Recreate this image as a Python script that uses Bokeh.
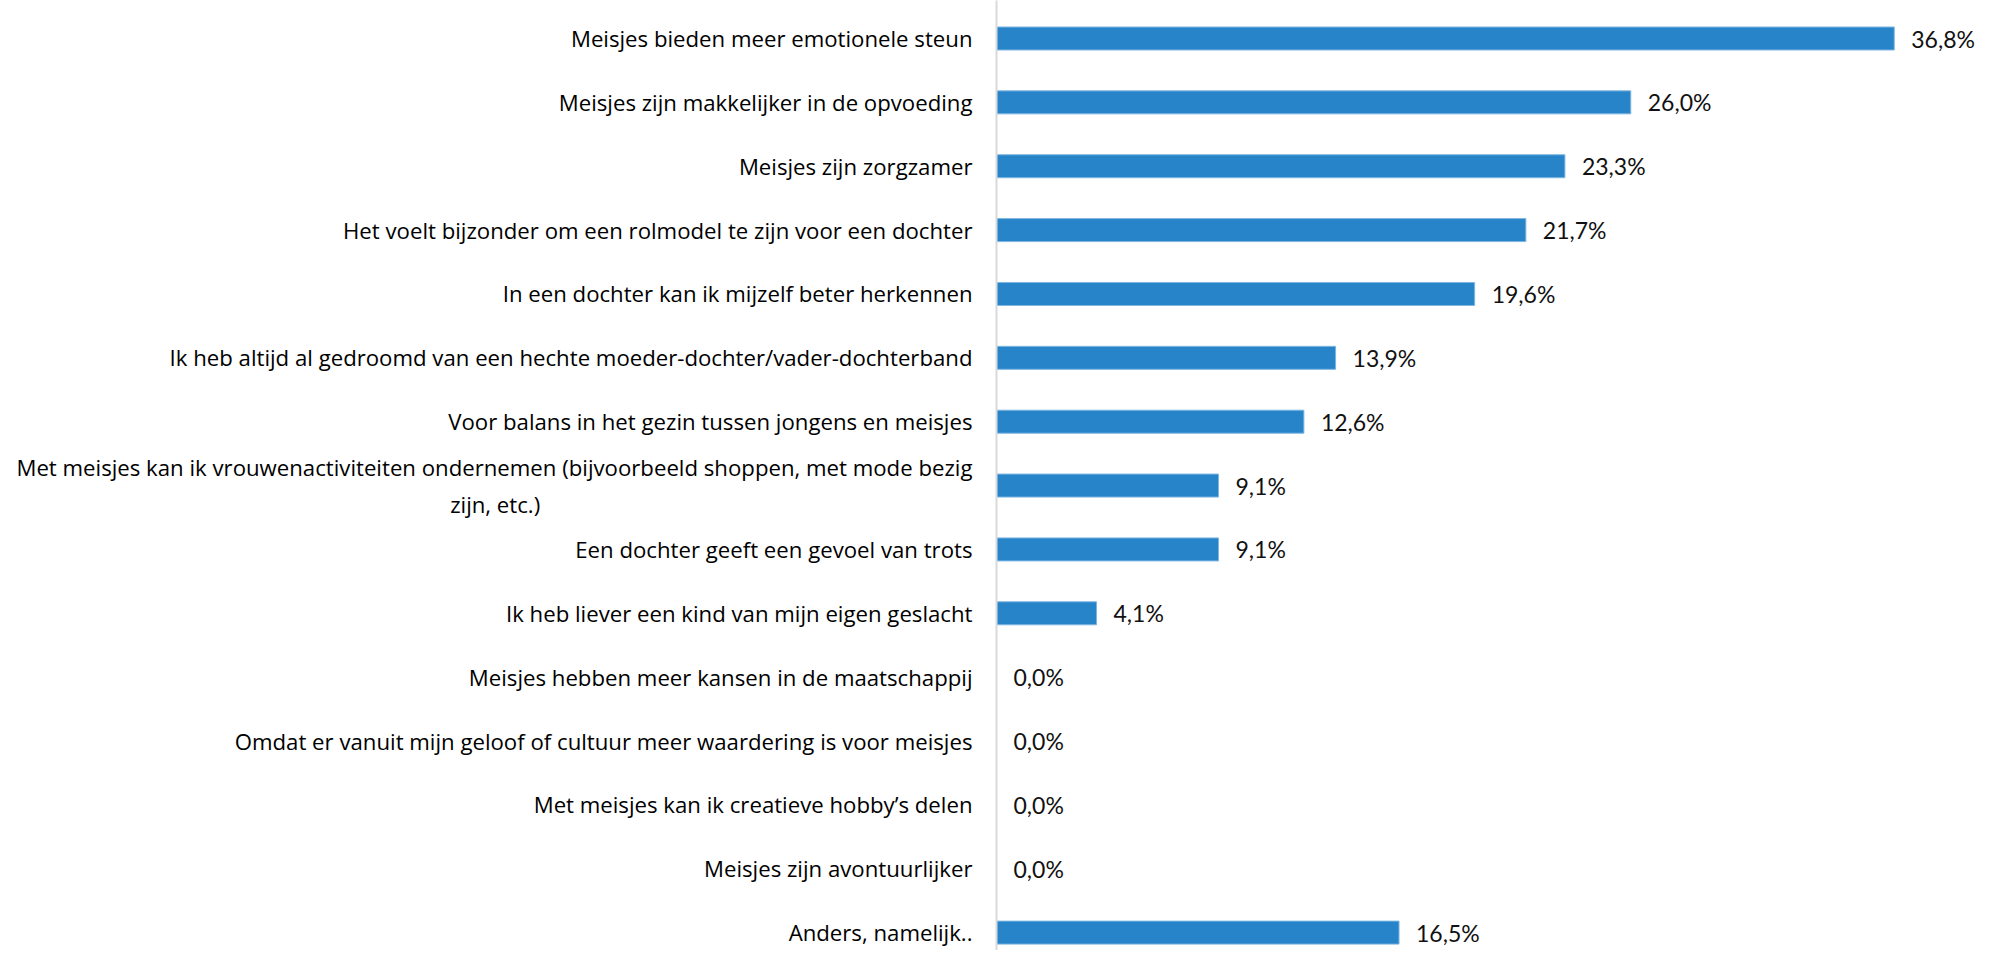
from bokeh.plotting import figure
from bokeh.models import ColumnDataSource, Range1d, FixedTicker
from bokeh.embed import file_html
from bokeh.resources import INLINE
from bokeh.core.properties import value

categories = [
    "Meisjes bieden meer emotionele steun",
    "Meisjes zijn makkelijker in de opvoeding",
    "Meisjes zijn zorgzamer",
    "Het voelt bijzonder om een rolmodel te zijn voor een dochter",
    "In een dochter kan ik mijzelf beter herkennen",
    "Ik heb altijd al gedroomd van een hechte moeder-dochter/vader-dochterband",
    "Voor balans in het gezin tussen jongens en meisjes",
    "Met meisjes kan ik vrouwenactiviteiten ondernemen (bijvoorbeeld shoppen, met mode bezig\nzijn, etc.)",
    "Een dochter geeft een gevoel van trots",
    "Ik heb liever een kind van mijn eigen geslacht",
    "Meisjes hebben meer kansen in de maatschappij",
    "Omdat er vanuit mijn geloof of cultuur meer waardering is voor meisjes",
    "Met meisjes kan ik creatieve hobby\u2019s delen",
    "Meisjes zijn avontuurlijker",
    "Anders, namelijk..",
]
values = [36.8, 26.0, 23.3, 21.7, 19.6, 13.9, 12.6, 9.1, 9.1, 4.1, 0.0, 0.0, 0.0, 0.0, 16.5]
value_labels = [f"{v:.1f}%".replace(".", ",") for v in values]
positions = list(range(len(categories)))

src = ColumnDataSource(dict(y=positions, v=values, lab=value_labels))

p = figure(width=1984, height=950, output_backend="svg", toolbar_location=None,
           x_range=Range1d(0, 40.5), y_range=Range1d(14.28, -0.595),
           min_border_left=996, min_border_right=0, min_border_top=0, min_border_bottom=0)
p.outline_line_color = None
p.xgrid.visible = False
p.ygrid.visible = False
p.xaxis.visible = False

p.hbar(y="y", left=0, right="v", height=0.36, fill_color="#2884C8",
       line_color="#7DB6E2", line_width=1, source=src)
p.text(x="v", y="y", text="lab", x_offset=17, text_baseline="middle",
       text_font=value("Lato"), text_font_size="23px", text_color="#111111", source=src)

# Tick labels: a two-line category gets one tick per line, the second line
# padded so it sits centred under the first one.
LINE_SHIFT = 0.29      # half line spacing, in category units
PAD = "\u00a0" * 75
ticks = []
overrides = {}
for i, c in zip(positions, categories):
    if "\n" in c:
        l1, l2 = c.split("\n")
        t1, t2 = i - LINE_SHIFT, i + LINE_SHIFT
        ticks += [t1, t2]
        overrides[t1] = l1
        overrides[t2] = l2 + PAD
    else:
        ticks.append(i)
        overrides[i] = c

ya = p.yaxis[0]
ya.ticker = FixedTicker(ticks=ticks)
ya.major_label_overrides = overrides
ya.major_tick_line_color = None
ya.minor_tick_line_color = None
ya.major_tick_out = 0
ya.major_tick_in = 0
ya.major_label_standoff = 24
ya.axis_line_color = "#D9D9D9"
ya.axis_line_width = 2
ya.major_label_text_font = "Open Sans"
ya.major_label_text_font_size = "22.2px"
ya.major_label_text_color = "#000000"

open("out.html", "w").write(file_html(p, INLINE))
